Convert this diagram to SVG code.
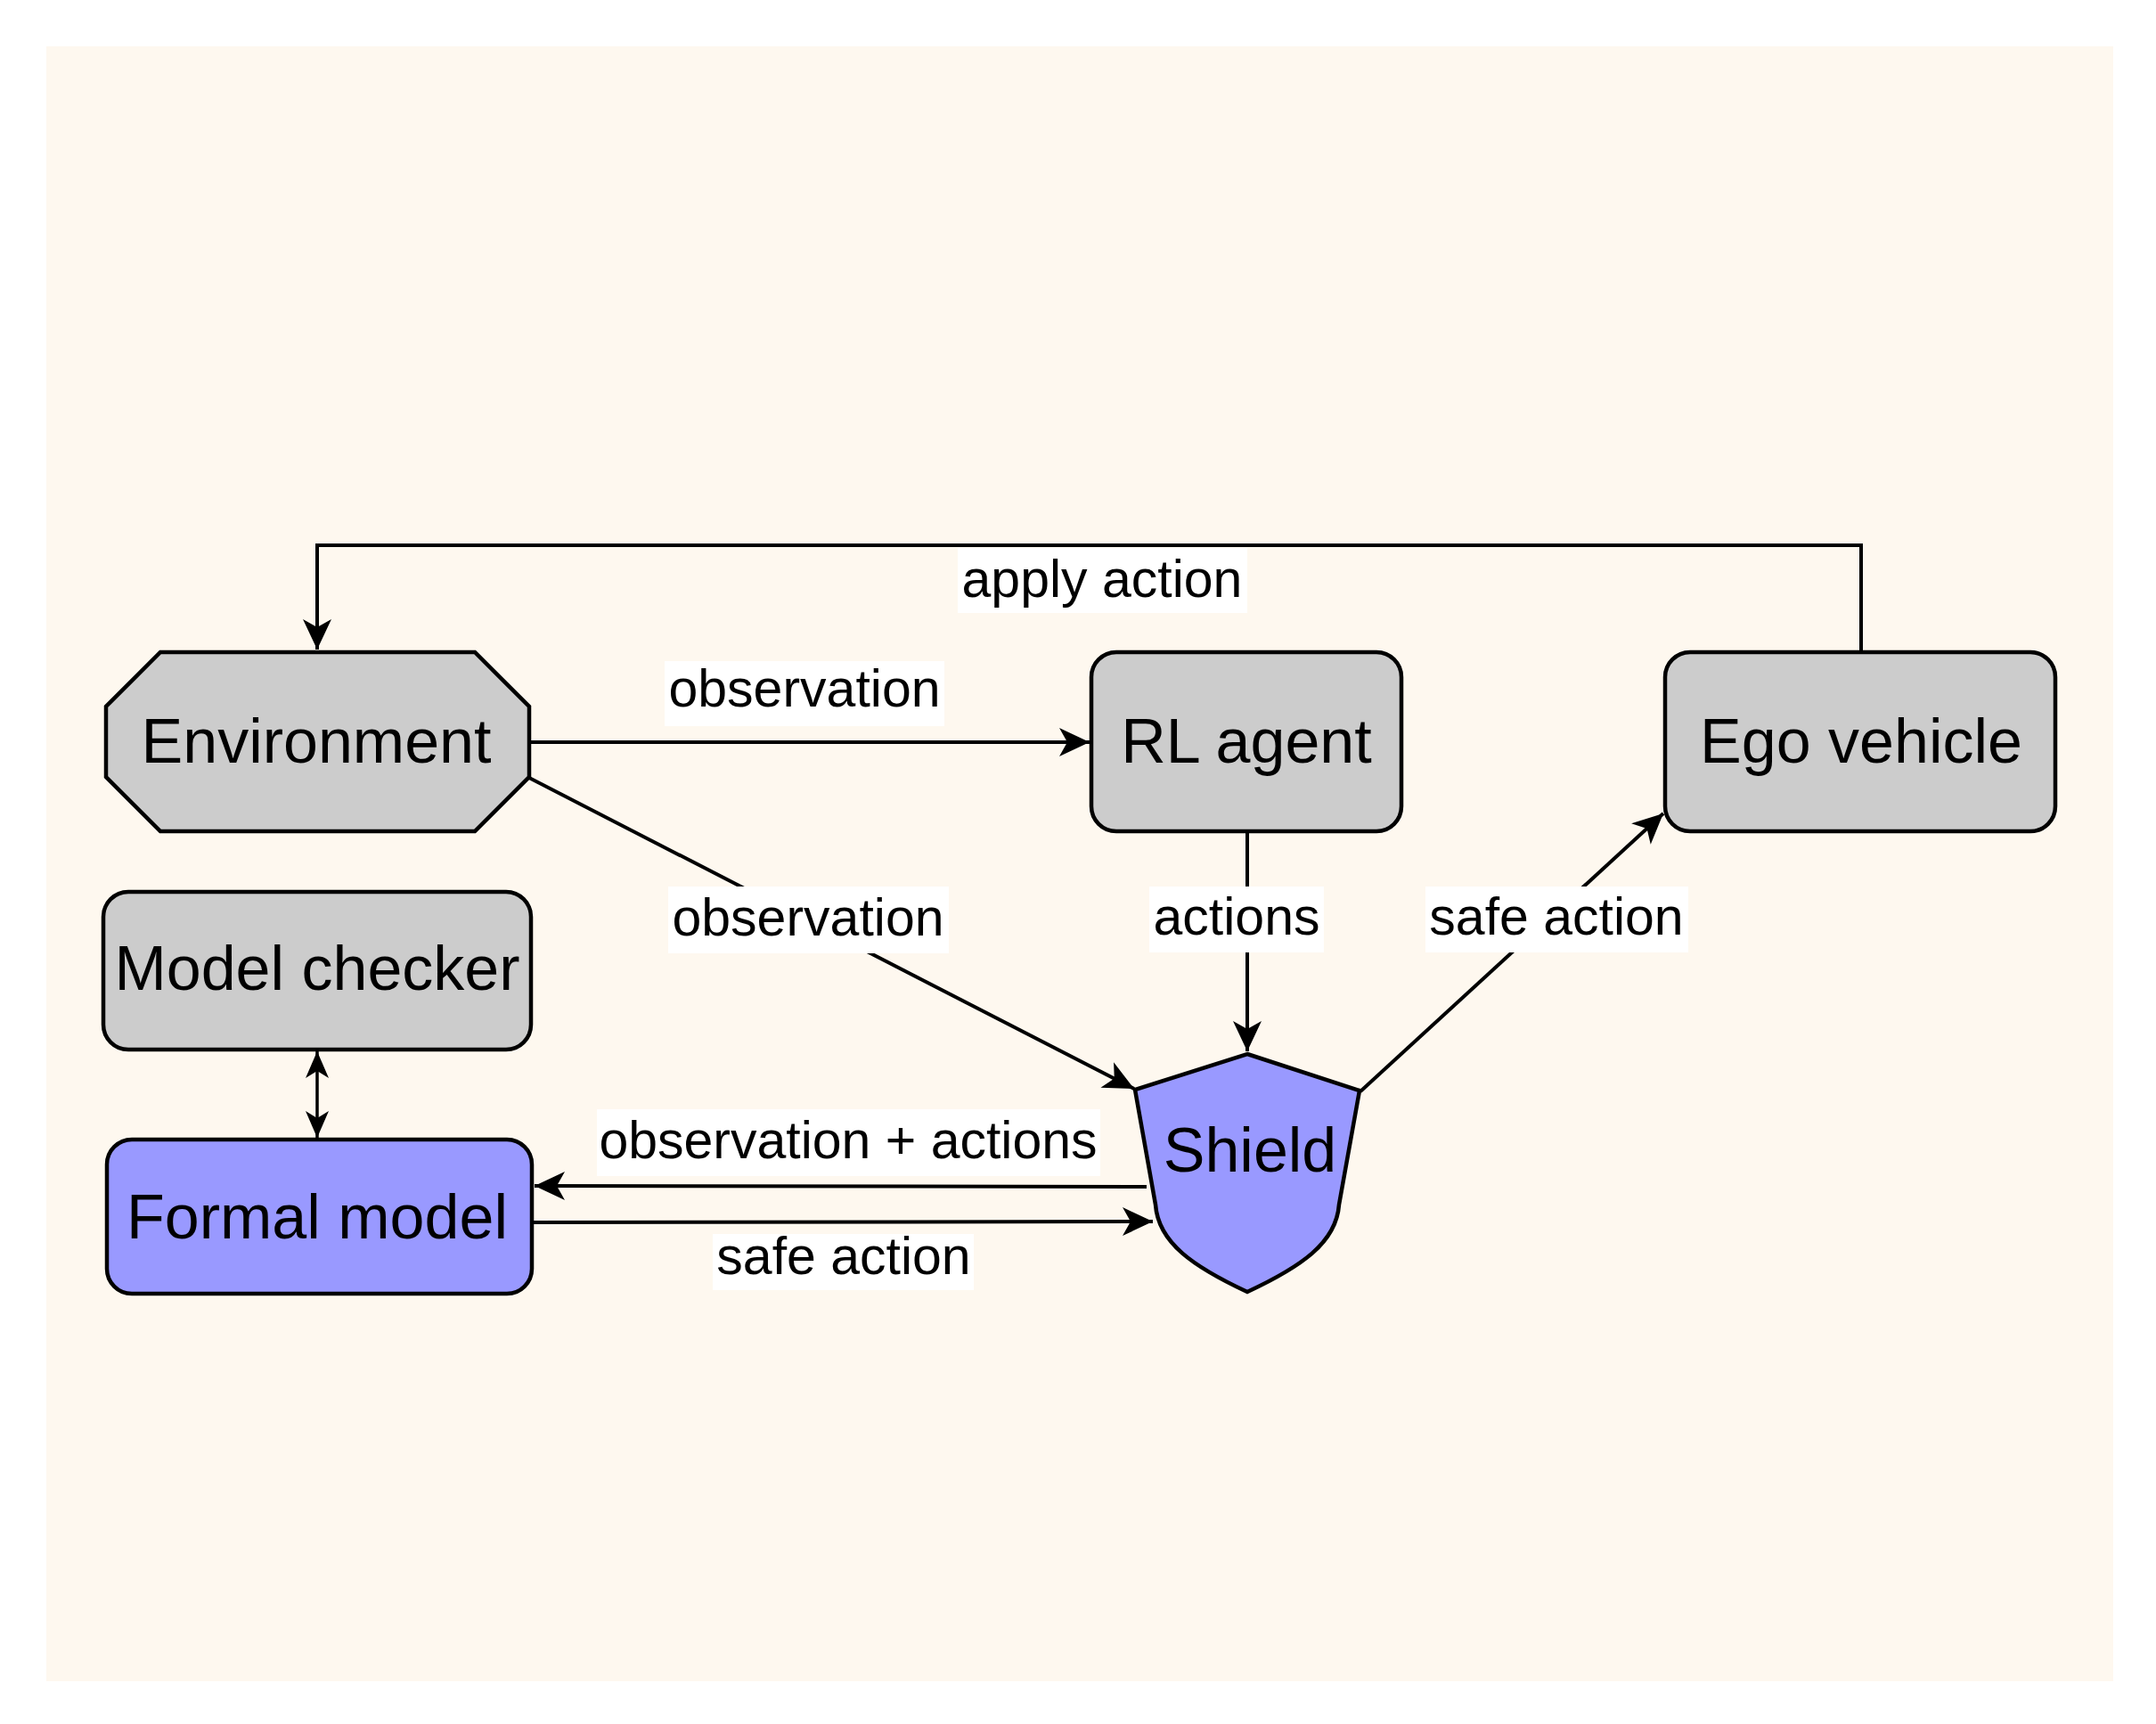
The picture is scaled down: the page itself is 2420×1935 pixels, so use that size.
<svg xmlns="http://www.w3.org/2000/svg" width="2420" height="1935" viewBox="0 0 2420 1935">
<style>
.node{stroke:#000;stroke-width:4.5;}
.grey{fill:#CCCCCC;}
.blue{fill:#9999FF;}
.nt{font-family:"Liberation Sans",Arial,sans-serif;font-size:70px;fill:#000;text-anchor:middle;}
.lt{font-family:"Liberation Sans",Arial,sans-serif;font-size:59px;fill:#000;text-anchor:middle;}
.edge{fill:none;stroke:#000;stroke-width:4;}
.thin{fill:none;stroke:#000;stroke-width:3.5;}
.lbg{fill:#FFFFFF;}
</style>
<defs>
<marker id="arr" markerUnits="userSpaceOnUse" markerWidth="40" markerHeight="40" viewBox="-36 -20 40 40" refX="0" refY="0" orient="auto">
<path d="M0,0 L-34,-16 L-25,0 L-34,16 Z" fill="#000"/>
</marker>
<marker id="arrs" markerUnits="userSpaceOnUse" markerWidth="36" markerHeight="34" viewBox="-33 -17 36 34" refX="0" refY="0" orient="auto-start-reverse">
<path d="M0,0 L-30,-13 L-22,0 L-30,13 Z" fill="#000"/>
</marker>
</defs>
<rect x="52" y="52" width="2320" height="1835" fill="#FEF8EF"/>
<g id="connectors">
<path class="edge" d="M2089,732 L2089,612 L356,612 L356,729" marker-end="url(#arr)"/>
<path class="edge" d="M594,833 L1223,833" marker-end="url(#arr)"/>
<path class="edge" d="M594,873 L1273,1222" marker-end="url(#arr)"/>
<path class="edge" d="M1400,933 L1400,1180" marker-end="url(#arr)"/>
<path class="edge" d="M1527,1225 L1867,913" marker-end="url(#arr)"/>
<path class="edge" d="M1287,1332 L600,1331" marker-end="url(#arr)"/>
<path class="edge" d="M597,1372 L1294,1371" marker-end="url(#arr)"/>
<path class="thin" d="M356,1180 L356,1277" marker-start="url(#arrs)" marker-end="url(#arrs)"/>
<g id="labels">
<rect class="lbg" x="1075" y="615" width="325" height="73"/>
<text class="lt" x="1237" y="670">apply action</text>
<rect class="lbg" x="746" y="742" width="314" height="73"/>
<text class="lt" x="903" y="793">observation</text>
<rect class="lbg" x="750" y="995" width="315" height="75"/>
<text class="lt" x="907" y="1050">observation</text>
<rect class="lbg" x="1290" y="995" width="196" height="74"/>
<text class="lt" x="1388" y="1049">actions</text>
<rect class="lbg" x="1600" y="995" width="295" height="74"/>
<text class="lt" x="1747" y="1049">safe action</text>
<rect class="lbg" x="670" y="1245" width="565" height="75"/>
<text class="lt" x="952" y="1300">observation + actions</text>
<rect class="lbg" x="800" y="1385" width="293" height="63"/>
<text class="lt" x="947" y="1430">safe action</text>
</g>
</g>
<g id="environment">
<polygon class="node grey" points="180,732 533,732 594,793 594,872 533,933 180,933 119,872 119,793"/>
<text class="nt" x="355" y="856">Environment</text>
</g>
<g id="rl-agent">
<rect class="node grey" x="1225" y="732" width="348" height="201" rx="28" ry="28"/>
<text class="nt" x="1399" y="856">RL agent</text>
</g>
<g id="ego-vehicle">
<rect class="node grey" x="1869" y="732" width="438" height="201" rx="28" ry="28"/>
<text class="nt" x="2089" y="856">Ego vehicle</text>
</g>
<g id="model-checker">
<rect class="node grey" x="116" y="1001" width="480" height="177" rx="28" ry="28"/>
<text class="nt" x="356" y="1111">Model checker</text>
</g>
<g id="formal-model">
<rect class="node blue" x="120" y="1279" width="477" height="173" rx="28" ry="28"/>
<text class="nt" x="356" y="1390">Formal model</text>
</g>
<g id="shield">
<path class="node blue" d="M1400,1183 L1526,1224 L1503,1352 C1500,1395 1460,1422 1400,1450 C1340,1422 1300,1395 1297,1352 L1274,1223 Z"/>
<text class="nt" x="1403" y="1315">Shield</text>
</g>
</svg>
